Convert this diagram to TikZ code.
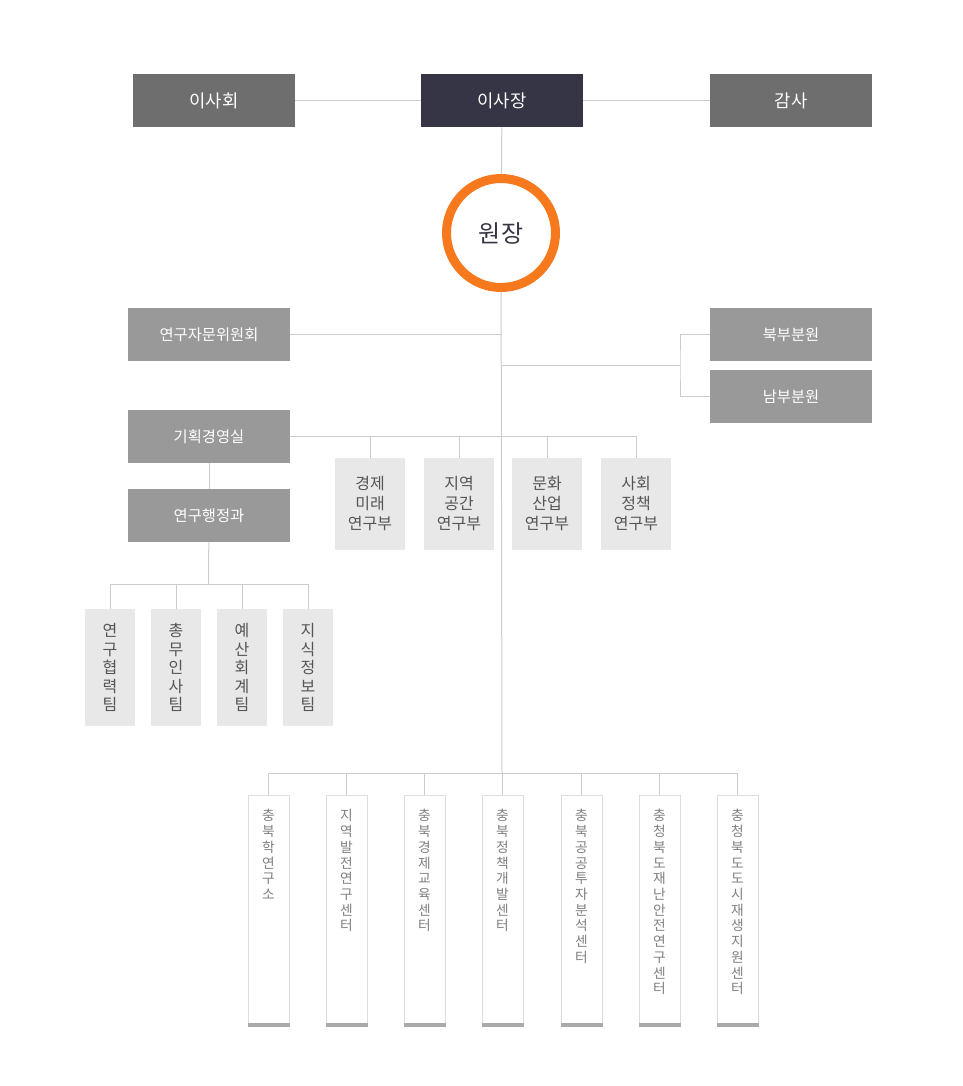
\documentclass[tikz,border=0pt]{standalone}
\usepackage{fontspec}
\setmainfont{Noto Sans CJK KR}
\usepackage{tikz}
\definecolor{boardgray}{RGB}{110,110,110}
\definecolor{chairnavy}{RGB}{54,53,69}
\definecolor{unitgray}{RGB}{153,153,153}
\definecolor{cellgray}{RGB}{232,232,232}
\definecolor{linegray}{RGB}{204,204,204}
\definecolor{textgray}{RGB}{85,85,85}
\definecolor{centergray}{RGB}{221,221,221}
\definecolor{bargray}{RGB}{170,170,170}
\definecolor{ringorange}{RGB}{247,121,30}

\begin{document}
\begin{tikzpicture}[x=0.75pt, y=-0.75pt,
    topbox/.style={fill=boardgray, text=white, minimum width=121.5pt, minimum height=39.75pt, font=\fontsize{13.3}{15}\selectfont},
    unitbox/.style={fill=unitgray, text=white, minimum width=121.5pt, minimum height=39.75pt, font=\fontsize{11.5}{13}\selectfont},
    deptbox/.style={fill=cellgray, text=textgray, minimum width=52.5pt, minimum height=69pt, align=center, font=\fontsize{12}{15}\selectfont},
    teambox/.style={fill=cellgray, text=textgray, minimum width=37.5pt, minimum height=87.75pt, align=center, font=\fontsize{12}{13.9}\selectfont},
    centerbox/.style={draw=centergray, line width=0.75pt, fill=white, minimum width=30.75pt, minimum height=173.25pt},
    vtext/.style={anchor=north, inner sep=0pt, text=gray, align=center, font=\fontsize{10.3}{11.8}\selectfont},
    link/.style={draw=linegray, line width=0.75pt}]
    \useasboundingbox (0,0) rectangle (963,1086);

    % top row
    \node[topbox] (board) at (214,100.5) {이사회};
    \node[topbox, fill=chairnavy] (chair) at (502,100.5) {이사장};
    \node[topbox] (audit) at (791,100.5) {감사};
    \node[circle, draw=ringorange, line width=6.75pt, minimum size=81.75pt, fill=white,
          font=\fontsize{18}{20}\selectfont, text=chairnavy] (gen) at (501,233) {원장};

    % staff and branches
    \node[unitbox] (adv) at (209,334.5) {연구자문위원회};
    \node[unitbox] (nbr) at (791,334.5) {북부분원};
    \node[unitbox] (sbr) at (791,396.5) {남부분원};
    \node[unitbox] (plan) at (209,436.5) {기획경영실};
    \node[unitbox] (admin) at (209,515.5) {연구행정과};

    % research departments
    \node[deptbox] (d1) at (370,504) {경제\\미래\\연구부};
    \node[deptbox] (d2) at (459,504) {지역\\공간\\연구부};
    \node[deptbox] (d3) at (547,504) {문화\\산업\\연구부};
    \node[deptbox] (d4) at (636,504) {사회\\정책\\연구부};

    % admin teams
    \node[teambox] (t1) at (110,667.5) {연\\구\\협\\력\\팀};
    \node[teambox] (t2) at (176,667.5) {총\\무\\인\\사\\팀};
    \node[teambox] (t3) at (242,667.5) {예\\산\\회\\계\\팀};
    \node[teambox] (t4) at (308,667.5) {지\\식\\정\\보\\팀};

    % attached centres
    \node[centerbox] (c1) at (268.5,910.5) {};
    \node[centerbox] (c2) at (346.5,910.5) {};
    \node[centerbox] (c3) at (424.5,910.5) {};
    \node[centerbox] (c4) at (502.5,910.5) {};
    \node[centerbox] (c5) at (581.5,910.5) {};
    \node[centerbox] (c6) at (659.5,910.5) {};
    \node[centerbox] (c7) at (737.5,910.5) {};
    \node[vtext] at ([yshift=-11pt]c1.north) {충\\북\\학\\연\\구\\소};
    \node[vtext] at ([yshift=-11pt]c2.north) {지\\역\\발\\전\\연\\구\\센\\터};
    \node[vtext] at ([yshift=-11pt]c3.north) {충\\북\\경\\제\\교\\육\\센\\터};
    \node[vtext] at ([yshift=-11pt]c4.north) {충\\북\\정\\책\\개\\발\\센\\터};
    \node[vtext] at ([yshift=-11pt]c5.north) {충\\북\\공\\공\\투\\자\\분\\석\\센\\터};
    \node[vtext] at ([yshift=-11pt]c6.north) {충\\청\\북\\도\\재\\난\\안\\전\\연\\구\\센\\터};
    \node[vtext] at ([yshift=-11pt]c7.north) {충\\청\\북\\도\\도\\시\\재\\생\\지\\원\\센\\터};
    \foreach \c in {c1,c2,c3,c4,c5,c6,c7}
        \fill[bargray] (\c.south west) rectangle ([yshift=3pt]\c.south east);

    % connectors
    \coordinate (bus) at (502,773);
    \coordinate (brj) at (680,365);
    \coordinate (tbus) at (208.5,584);
    \draw[link] (board) -- (chair);
    \draw[link] (chair) -- (audit);
    \draw[link] (chair) -- (gen);
    \draw[link] (gen) -- (bus);
    \draw[link] (adv) -- (adv -| bus);
    \draw[link] (brj -| bus) -- (brj);
    \draw[link] (nbr.west) -| (brj) |- (sbr.west);
    \foreach \d in {d1,d2,d3,d4}
        \draw[link] (plan) -| (\d.north);
    \draw[link] (plan) -- (admin);
    \draw[link] (admin) -- (tbus);
    \foreach \t in {t1,t2,t3,t4}
        \draw[link] (tbus) -| (\t.north);
    \foreach \c in {c1,c2,c3,c4,c5,c6,c7}
        \draw[link] (bus) -| (\c.north);
\end{tikzpicture}
\end{document}
